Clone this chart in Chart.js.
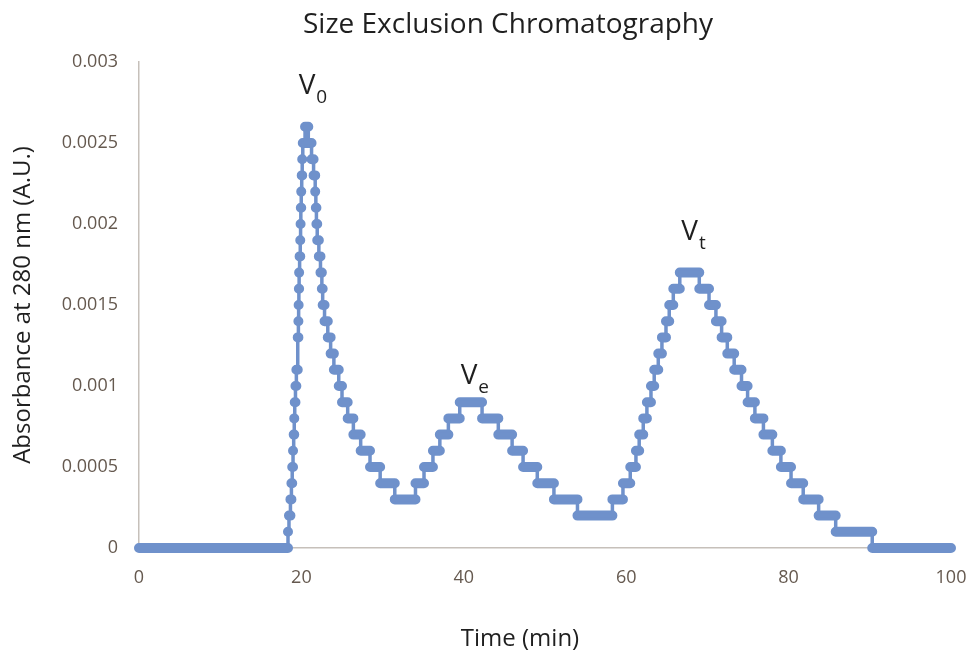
<!DOCTYPE html>
<html>
<head>
<meta charset="utf-8">
<title>Size Exclusion Chromatography</title>
<script src="https://cdn.jsdelivr.net/npm/chart.js@4.4.1/dist/chart.umd.min.js"></script>
<style>
html, body { margin: 0; padding: 0; background: #ffffff; }
#wrap { width: 972px; height: 660px; }
</style>
</head>
<body>
<div id="wrap"><canvas id="secChart" width="972" height="660"></canvas></div>
<script>
// trace: each level holds from its start time until the next start
const stepTimes = [
    0, 18.35, 18.47, 18.65, 18.77, 18.87, 18.97, 19.05, 19.12, 19.18, 19.27, 19.38,
    19.55, 19.63, 19.66, 19.69, 19.72, 19.78, 19.86, 19.9, 19.93, 19.98, 20.04, 20.1, 20.17,
    20.45, 20.85, 21.25, 21.5, 21.7, 21.78, 21.85, 21.95, 22.15, 22.35, 22.52, 22.62,
    22.85, 23.25, 23.6, 24.0, 24.6, 25.0, 25.7, 26.4, 27.3, 28.45, 29.7, 31.5,
    34.05, 35.1, 36.2, 37.05, 38.1, 39.5,
    42.25, 44.25, 45.95, 47.3, 49.05, 51.1, 54.0,
    58.3, 59.6, 60.5, 61.2, 61.6, 62.1, 62.55, 63.05, 63.45, 63.95, 64.4, 64.9, 65.3, 65.8, 66.6,
    69.0, 70.2, 71.05, 71.75, 72.45, 73.3, 74.2, 74.95, 75.85, 76.9, 78.0, 79.05, 80.3, 81.8,
    83.7, 85.8, 90.3
];
const stepLevels = [
    0, 0.0001, 0.0002, 0.0003, 0.0004, 0.0005, 0.0006, 0.0007, 0.0008, 0.0009, 0.001, 0.0011,
    0.0013, 0.0014, 0.0015, 0.0016, 0.0017, 0.0018, 0.0019, 0.002, 0.0021, 0.0022, 0.0023, 0.0024, 0.0025,
    0.0026, 0.0025, 0.0024, 0.0023, 0.0022, 0.0021, 0.002, 0.0019, 0.0018, 0.0017, 0.0016, 0.0015,
    0.0014, 0.0013, 0.0012, 0.0011, 0.001, 0.0009, 0.0008, 0.0007, 0.0006, 0.0005, 0.0004, 0.0003,
    0.0004, 0.0005, 0.0006, 0.0007, 0.0008, 0.0009,
    0.0008, 0.0007, 0.0006, 0.0005, 0.0004, 0.0003, 0.0002,
    0.0003, 0.0004, 0.0005, 0.0006, 0.0007, 0.0008, 0.0009, 0.001, 0.0011, 0.0012, 0.0013, 0.0014, 0.0015, 0.0016, 0.0017,
    0.0016, 0.0015, 0.0014, 0.0013, 0.0012, 0.0011, 0.001, 0.0009, 0.0008, 0.0007, 0.0006, 0.0005, 0.0004, 0.0003,
    0.0002, 0.0001, 0
];
const endTime = 100;

const xTicks = [0, 20, 40, 60, 80, 100];
const yTicks = [0, 0.0005, 0.001, 0.0015, 0.002, 0.0025, 0.003];

// V0 / Ve / Vt markers, placed in data units (baseline of the V)
const peakSubs = ["0", "e", "t"];
const peakTimes = [20.69, 40.64, 67.8];
const peakLabelLevels = [0.0028, 0.00101, 0.0019];

const lineColor = "#6f91cb";
const textColor = "#1f1f1f";

const traceData = stepTimes.map((t, i) => ({ x: t, y: stepLevels[i] }));
traceData.push({ x: endTime, y: stepLevels[stepLevels.length - 1] });

// each flat run becomes one thick rounded stroke, like the overlapping markers
const plateauData = [];
stepTimes.forEach((t, i) => {
    const next = i < stepTimes.length - 1 ? stepTimes[i + 1] : endTime;
    plateauData.push({ x: t, y: stepLevels[i] });
    plateauData.push({ x: next, y: stepLevels[i] });
    plateauData.push({ x: next, y: null });
});

const textLayer = {
    id: "textLayer",
    afterDraw(chart) {
        const ctx = chart.ctx;
        const area = chart.chartArea;
        const x = chart.scales.x;
        const y = chart.scales.y;
        ctx.save();
        ctx.fillStyle = textColor;
        ctx.textBaseline = "alphabetic";

        // title and x title sit a little left of the plot centre, as in the source
        ctx.textAlign = "center";
        ctx.font = '28px "Open Sans"';
        ctx.fillText("Size Exclusion Chromatography", (area.left + area.right) / 2 - 37, 33);
        ctx.font = '24px "Open Sans"';
        ctx.fillText("Time (min)", (area.left + area.right) / 2 - 25, 646);

        peakSubs.forEach((sub, i) => {
            const px = x.getPixelForValue(peakTimes[i]);
            const py = y.getPixelForValue(peakLabelLevels[i]);
            ctx.font = '28px "Open Sans"';
            ctx.textAlign = "center";
            ctx.fillText("V", px, py);
            const w = ctx.measureText("V").width;
            ctx.font = '19px "Open Sans"';
            ctx.textAlign = "left";
            ctx.fillText(sub, px + w / 2 + 1, py + 9);
        });
        ctx.restore();
    }
};

const tickFont = { family: "Open Sans", size: 18 };

new Chart(document.getElementById("secChart"), {
    type: "line",
    data: {
        datasets: [
            {
                label: "trace",
                data: traceData,
                stepped: "before",
                borderColor: lineColor,
                borderWidth: 3.5,
                pointRadius: 0,
                fill: false,
                clip: false
            },
            {
                label: "plateaus",
                data: plateauData,
                borderColor: lineColor,
                borderWidth: 10,
                borderCapStyle: "round",
                borderJoinStyle: "round",
                pointRadius: 0,
                spanGaps: false,
                fill: false,
                clip: false
            }
        ]
    },
    options: {
        responsive: false,
        animation: false,
        layout: { padding: { left: 0, right: 21, top: 62, bottom: 0 } },
        plugins: {
            legend: { display: false },
            tooltip: { enabled: false },
            title: { display: false }
        },
        scales: {
            x: {
                type: "linear",
                min: 0,
                max: 100,
                afterBuildTicks: s => { s.ticks = xTicks.map(v => ({ value: v })); },
                afterFit: s => { s.height = 112; s.paddingLeft = 0; s.paddingRight = 0; },
                grid: { display: false, drawTicks: false },
                border: { display: true, color: "#c6c0ba", width: 1.5 },
                ticks: { color: "#65594f", font: tickFont, padding: 19, maxRotation: 0 }
            },
            y: {
                type: "linear",
                min: 0,
                max: 0.003,
                afterBuildTicks: s => { s.ticks = yTicks.map(v => ({ value: v })); },
                afterFit: s => { s.width = 139; s.paddingTop = 0; s.paddingBottom = 0; },
                grid: { display: false, drawTicks: false },
                border: { display: true, color: "#c6c0ba", width: 1.5 },
                ticks: {
                    color: "#65594f",
                    font: tickFont,
                    padding: 21,
                    callback: v => String(+v.toFixed(4))
                },
                title: {
                    display: true,
                    text: "Absorbance at 280 nm (A.U.)",
                    color: textColor,
                    font: { family: "Open Sans", size: 24 },
                    padding: { top: 9, bottom: 0 }
                }
            }
        }
    },
    plugins: [textLayer]
});
</script>
</body>
</html>
